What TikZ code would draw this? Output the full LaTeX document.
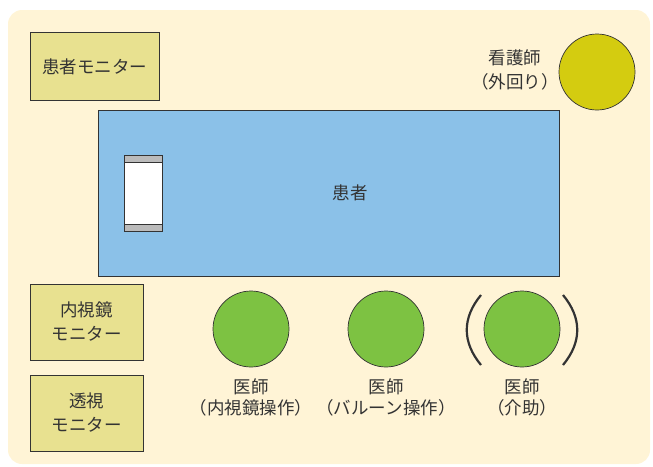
\documentclass[tikz,border=0pt]{standalone}
\usepackage{fontspec}
\setmainfont{Noto Sans CJK JP}
\definecolor{bgc}{HTML}{FFF4D6}
\definecolor{monc}{HTML}{E8E190}
\definecolor{patc}{HTML}{8BC1E8}
\definecolor{nursec}{HTML}{D4CC10}
\definecolor{docc}{HTML}{7DC242}
\definecolor{capc}{HTML}{BBBBBB}
\definecolor{linec}{HTML}{333333}
\begin{document}
\begin{tikzpicture}[x=1pt,y=-1pt,
  lbl/.style={font=\fontsize{17.5}{24}\selectfont, text=linec, align=center, inner sep=0pt},
  dlbl/.style={font=\fontsize{17.5}{21}\selectfont, text=linec, align=center, inner sep=0pt},
  monbox/.style={draw=linec, line width=0.9pt, fill=monc},
  person/.style={draw=linec, line width=0.7pt, circle, minimum size=76pt, inner sep=0pt}]
\useasboundingbox (0,0) rectangle (653,466);
\fill[bgc, rounded corners=14pt] (8,10) rectangle (650,464);
% patient monitor
\draw[monbox] (30,32) rectangle (159,100);
\node[lbl] (pm) at (94.5,67) {患者モニター};
% nurse
\node[person, fill=nursec] (nurse) at (597,72) {};
\node[lbl] (nl) at (515,70) {看護師\\（外回り）};
% patient
\draw[draw=linec, line width=0.9pt, fill=patc] (98,110) rectangle (559,276);
\node[lbl] (pt) at (350,193) {患者};
% bed pillow
\draw[draw=linec, line width=0.8pt, fill=white] (124,155) rectangle (162,231);
\draw[draw=linec, line width=0.8pt, fill=capc] (124,155) rectangle (162,162);
\draw[draw=linec, line width=0.8pt, fill=capc] (124,224) rectangle (162,231);
% endoscope monitor
\draw[monbox] (30,284) rectangle (143,360);
\node[lbl] (em) at (86.5,322) {内視鏡\\モニター};
% fluoro monitor
\draw[monbox] (30,375) rectangle (143,451);
\node[lbl] (fm) at (86.5,413) {透視\\モニター};
% doctors
\node[person, fill=docc] (d1) at (251,329) {};
\node[person, fill=docc] (d2) at (386,329) {};
\node[person, fill=docc] (d3) at (522,329) {};
\node[dlbl] (l1) at (251,397) {医師\\（内視鏡操作）};
\node[dlbl] (l2) at (386,397) {医師\\（バルーン操作）};
\node[dlbl] (l3) at (522,397) {医師\\（介助）};
% brackets
\draw[linec, line width=2.2pt] (481,295) .. controls (462,318) and (462,342) .. (481,365);
\draw[linec, line width=2.2pt] (563,295) .. controls (582,318) and (582,342) .. (563,365);
\end{tikzpicture}
\end{document}
